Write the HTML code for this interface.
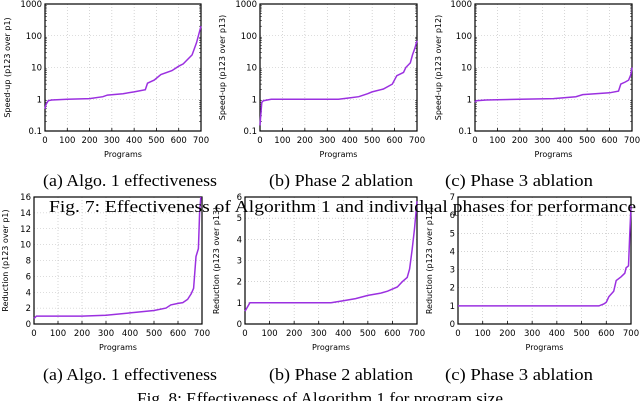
<!DOCTYPE html>
<html><head><meta charset="utf-8"><style>
html,body{margin:0;padding:0;background:#fff;}
svg{display:block;font-family:"DejaVu Sans","Liberation Sans",sans-serif;}
.cap{font-family:"Liberation Serif",serif;font-size:16.5px;fill:#000;}
.tk{font-size:8.5px;fill:#000;}
.ax{font-size:8px;fill:#000;}
</style></head><body>
<svg id="s" width="640" height="401" viewBox="0 0 640 401">
<text class="cap" x="43" y="186" textLength="174" lengthAdjust="spacingAndGlyphs">(a) Algo. 1 effectiveness</text>
<text class="cap" x="269" y="186" textLength="144" lengthAdjust="spacingAndGlyphs">(b) Phase 2 ablation</text>
<text class="cap" x="445" y="186" textLength="148" lengthAdjust="spacingAndGlyphs">(c) Phase 3 ablation</text>
<text class="cap" x="49" y="212" textLength="587" lengthAdjust="spacingAndGlyphs">Fig. 7: Effectiveness of Algorithm 1 and individual phases for performance</text>
<text class="cap" x="43" y="380" textLength="174" lengthAdjust="spacingAndGlyphs">(a) Algo. 1 effectiveness</text>
<text class="cap" x="269" y="380" textLength="144" lengthAdjust="spacingAndGlyphs">(b) Phase 2 ablation</text>
<text class="cap" x="445" y="380" textLength="148" lengthAdjust="spacingAndGlyphs">(c) Phase 3 ablation</text>
<text class="cap" x="137" y="404" textLength="366" lengthAdjust="spacingAndGlyphs">Fig. 8: Effectiveness of Algorithm 1 for program size</text>
</svg>
<script>
const xTicks=[0,100,200,300,400,500,600,700];
const logTicks=[0.1,1,10,100,1000];
const logTickLabels=['0.1','1','10','100','1000'];
const redTicksA=[0,2,4,6,8,10,12,14,16];
const redTicksB=[0,1,2,3,4,5,6];
const redTicksC=[0,1,2,3,4,5,6,7];
const speedX_a=[0,5,15,30,100,200,260,280,350,400,450,460,490,520,570,600,620,660,680,695,700];
const speedY_a=[0.5,0.7,0.9,0.95,1,1.05,1.2,1.35,1.5,1.7,2.0,3.2,4,6,8,11,13,25,60,150,200];
const speedX_b=[0,3,8,15,50,200,350,400,440,480,500,550,590,610,640,650,670,680,690,700];
const speedY_b=[0.15,0.3,0.8,0.9,1,1,1,1.1,1.2,1.5,1.7,2.1,3,5.5,7,10,14,25,40,70];
const speedX_c=[0,5,50,200,350,450,480,600,640,650,670,685,695,700];
const speedY_c=[0.8,0.9,0.95,1,1.05,1.2,1.4,1.6,1.8,3.0,3.5,4,6,10];
const redX_a=[0,10,200,300,400,500,550,570,600,620,640,655,665,675,685,690,695];
const redY_a=[0.7,1,1,1.1,1.4,1.7,2.0,2.4,2.6,2.7,3.1,3.8,4.5,8.5,9.5,14,16];
const redX_b=[0,20,350,400,450,500,550,580,620,640,660,670,680,690,700];
const redY_b=[0.6,1,1,1.1,1.2,1.35,1.45,1.55,1.75,2,2.2,2.6,3.5,4.5,5.8];
const redX_c=[0,570,590,600,610,630,640,660,675,680,690,695,700];
const redY_c=[1,1,1.1,1.2,1.5,1.8,2.4,2.6,2.8,3.1,3.2,5,6.5];

const svg=document.getElementById('s');
const NS='http://www.w3.org/2000/svg';
function mk(t,a){const e=document.createElementNS(NS,t);for(const k in a)e.setAttribute(k,a[k]);svg.appendChild(e);return e;}

function chart(id,L,R,T,B,log,ymin,ymax,yt,ytl,xs,ys,ytitle,xlY,ptY,titleX){
  const sx=v=>L+(v/700)*(R-L);
  const sy=log?(v=>B-(Math.log10(v)-Math.log10(ymin))/(Math.log10(ymax)-Math.log10(ymin))*(B-T)):(v=>B-(v-ymin)/(ymax-ymin)*(B-T));
  xTicks.forEach(v=>{
    const g=mk('line',{x1:sx(v),x2:sx(v),y1:T,y2:B,stroke:'#bbb','stroke-width':0.6,'stroke-dasharray':'1,2'});
    
    
    const t=mk('line',{x1:sx(v),x2:sx(v),y1:B,y2:B-3,stroke:'#000','stroke-width':0.8});
    
    
    const tx=mk('text',{x:sx(v),y:xlY,'text-anchor':'middle',class:'tk'});tx.textContent=v;
    
    
  });
  yt.forEach((v,i)=>{
    const g=mk('line',{x1:L,x2:R,y1:sy(v),y2:sy(v),stroke:'#bbb','stroke-width':0.6,'stroke-dasharray':'1,2'});
    
    
    const tx=mk('text',{x:L-3,y:sy(v)+3,'text-anchor':'end',class:'tk'});tx.textContent=ytl?ytl[i]:v;
    
    
    if(log&&i<yt.length-1){for(let m=2;m<10;m++){const y=sy(v*m);
      const mt=mk('line',{x1:L,x2:L+2,y1:y,y2:y,stroke:'#000','stroke-width':0.5});
      
      
      const mt2=mk('line',{x1:R,x2:R-2,y1:y,y2:y,stroke:'#000','stroke-width':0.5});
      
      }}
  });
  const fr=mk('rect',{x:L,y:T,width:R-L,height:B-T,fill:'none',stroke:'#000','stroke-width':1.2});
  
  
  const pts=xs.map((x,i)=>sx(x).toFixed(1)+','+sy(Math.min(ys[i],ymax)).toFixed(1)).join(' ');
  const pl=mk('polyline',{points:pts,fill:'none',stroke:'#9b30e0','stroke-width':1.5});
  
  
  const xt=mk('text',{x:(L+R)/2,y:ptY,'text-anchor':'middle',class:'ax'});xt.textContent='Programs';
  
  
  const cx=titleX,cy=(T+B)/2;
  const yt2=mk('text',{x:cx,y:cy,'text-anchor':'middle',class:'ax',transform:'rotate(-90 '+cx+' '+cy+')'});yt2.textContent=ytitle;
  
  
}
chart('speedup-a',45,201,4,131,true,0.1,1000,logTicks,logTickLabels,speedX_a,speedY_a,'Speed-up (p123 over p1)',143,157,10);
chart('speedup-b',260,417,4,131,true,0.1,1000,logTicks,logTickLabels,speedX_b,speedY_b,'Speed-up (p123 over p13)',143,157,225);
chart('speedup-c',475,632,4,131,true,0.1,1000,logTicks,logTickLabels,speedX_c,speedY_c,'Speed-up (p123 over p12)',143,157,441);
chart('reduction-a',34,202,197,324,false,0,16,redTicksA,null,redX_a,redY_a,'Reduction (p123 over p1)',336,350,8);
chart('reduction-b',245,417,197,324,false,0,6,redTicksB,null,redX_b,redY_b,'Reduction (p123 over p13)',336,350,219);
chart('reduction-c',458,631,197,324,false,0,7,redTicksC,null,redX_c,redY_c,'Reduction (p123 over p12)',336,350,432);
[...svg.querySelectorAll('.cap')].forEach(c=>svg.appendChild(c));
</script>
</body></html>
